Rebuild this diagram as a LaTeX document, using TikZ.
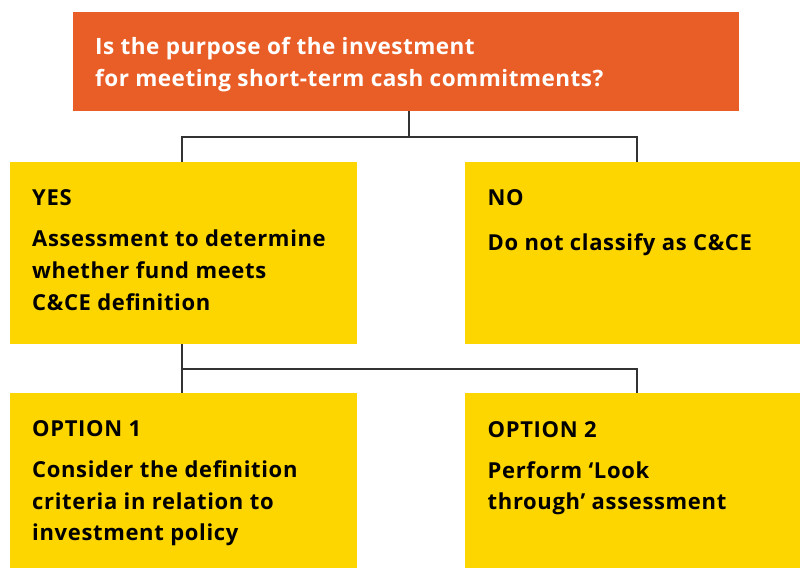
\documentclass[tikz,border=0pt]{standalone}
\usepackage{fontspec}
\setmainfont{Open Sans}
\newfontfamily\boxfont{Open Sans}[BoldFont={* Bold}, LetterSpace=3]
\newfontfamily\qfont{Open Sans}[BoldFont={* Bold}, LetterSpace=2.2]
\definecolor{qorange}{HTML}{E95E27}
\definecolor{qyellow}{HTML}{FDD600}
\definecolor{qline}{HTML}{333333}
\begin{document}
\begin{tikzpicture}[x=1pt,y=-1pt,
  panel/.style={fill=qyellow, draw=none, inner sep=0pt, outer sep=0pt},
  head/.style={anchor=base west, inner sep=0pt, font=\boxfont\bfseries\fontsize{22}{31.7}\selectfont, text=black},
  body/.style={anchor=base west, inner sep=0pt, font=\boxfont\bfseries\fontsize{22}{31.7}\selectfont, text=black},
  link/.style={draw=qline, line width=1.4pt}]
  \useasboundingbox (0,0) rectangle (800,568);

  % question box
  \path[fill=qorange] (73,12) rectangle (739,111);
  \coordinate (qbot) at (409,111);
  \node[anchor=base west, inner sep=0pt, text=white,
        font=\qfont\bfseries\fontsize{22.5}{32}\selectfont] (qtext) at (95,54)
    {\parbox[t]{620pt}{\raggedright Is the purpose of the investment\\for meeting short-term cash commitments?}};

  % answer boxes
  \path[panel] (10,162) rectangle (357,344);
  \path[panel] (465,162) rectangle (800,344);
  \path[panel] (10,393) rectangle (357,568);
  \path[panel] (465,393) rectangle (800,568);

  % tree connectors
  \coordinate (yesTop) at (182,162);
  \coordinate (noTop) at (637,162);
  \coordinate (yesBot) at (182,344);
  \coordinate (opt1Top) at (182,393);
  \coordinate (opt2Top) at (637,393);
  \draw[link] (qbot) -- (409,137) -| (yesTop);
  \draw[link] (409,137) -| (noTop);
  \draw[link] (yesBot) -- (opt1Top);
  \draw[link] (182,369) -| (opt2Top);

  % texts
  \node[head] (yesH) at (32,205.7) {YES};
  \node[body] (yesB) at (32,246.7)
    {\parbox[t]{320pt}{\raggedright Assessment to determine\\whether fund meets\\C\&CE definition}};
  \node[head] (noH) at (487.5,205.7) {NO};
  \node[body] (noB) at (487.5,250.7) {Do not classify as C\&CE};
  \node[head] (o1H) at (32,436.7) {OPTION 1};
  \node[body] (o1B) at (32,477.3)
    {\parbox[t]{320pt}{\raggedright Consider the definition\\criteria in relation to\\investment policy}};
  \node[head] (o2H) at (487.5,437) {OPTION 2};
  \node[body] (o2B) at (487.5,478)
    {\parbox[t]{300pt}{\raggedright Perform ‘Look\\through’ assessment}};
\end{tikzpicture}
\end{document}
